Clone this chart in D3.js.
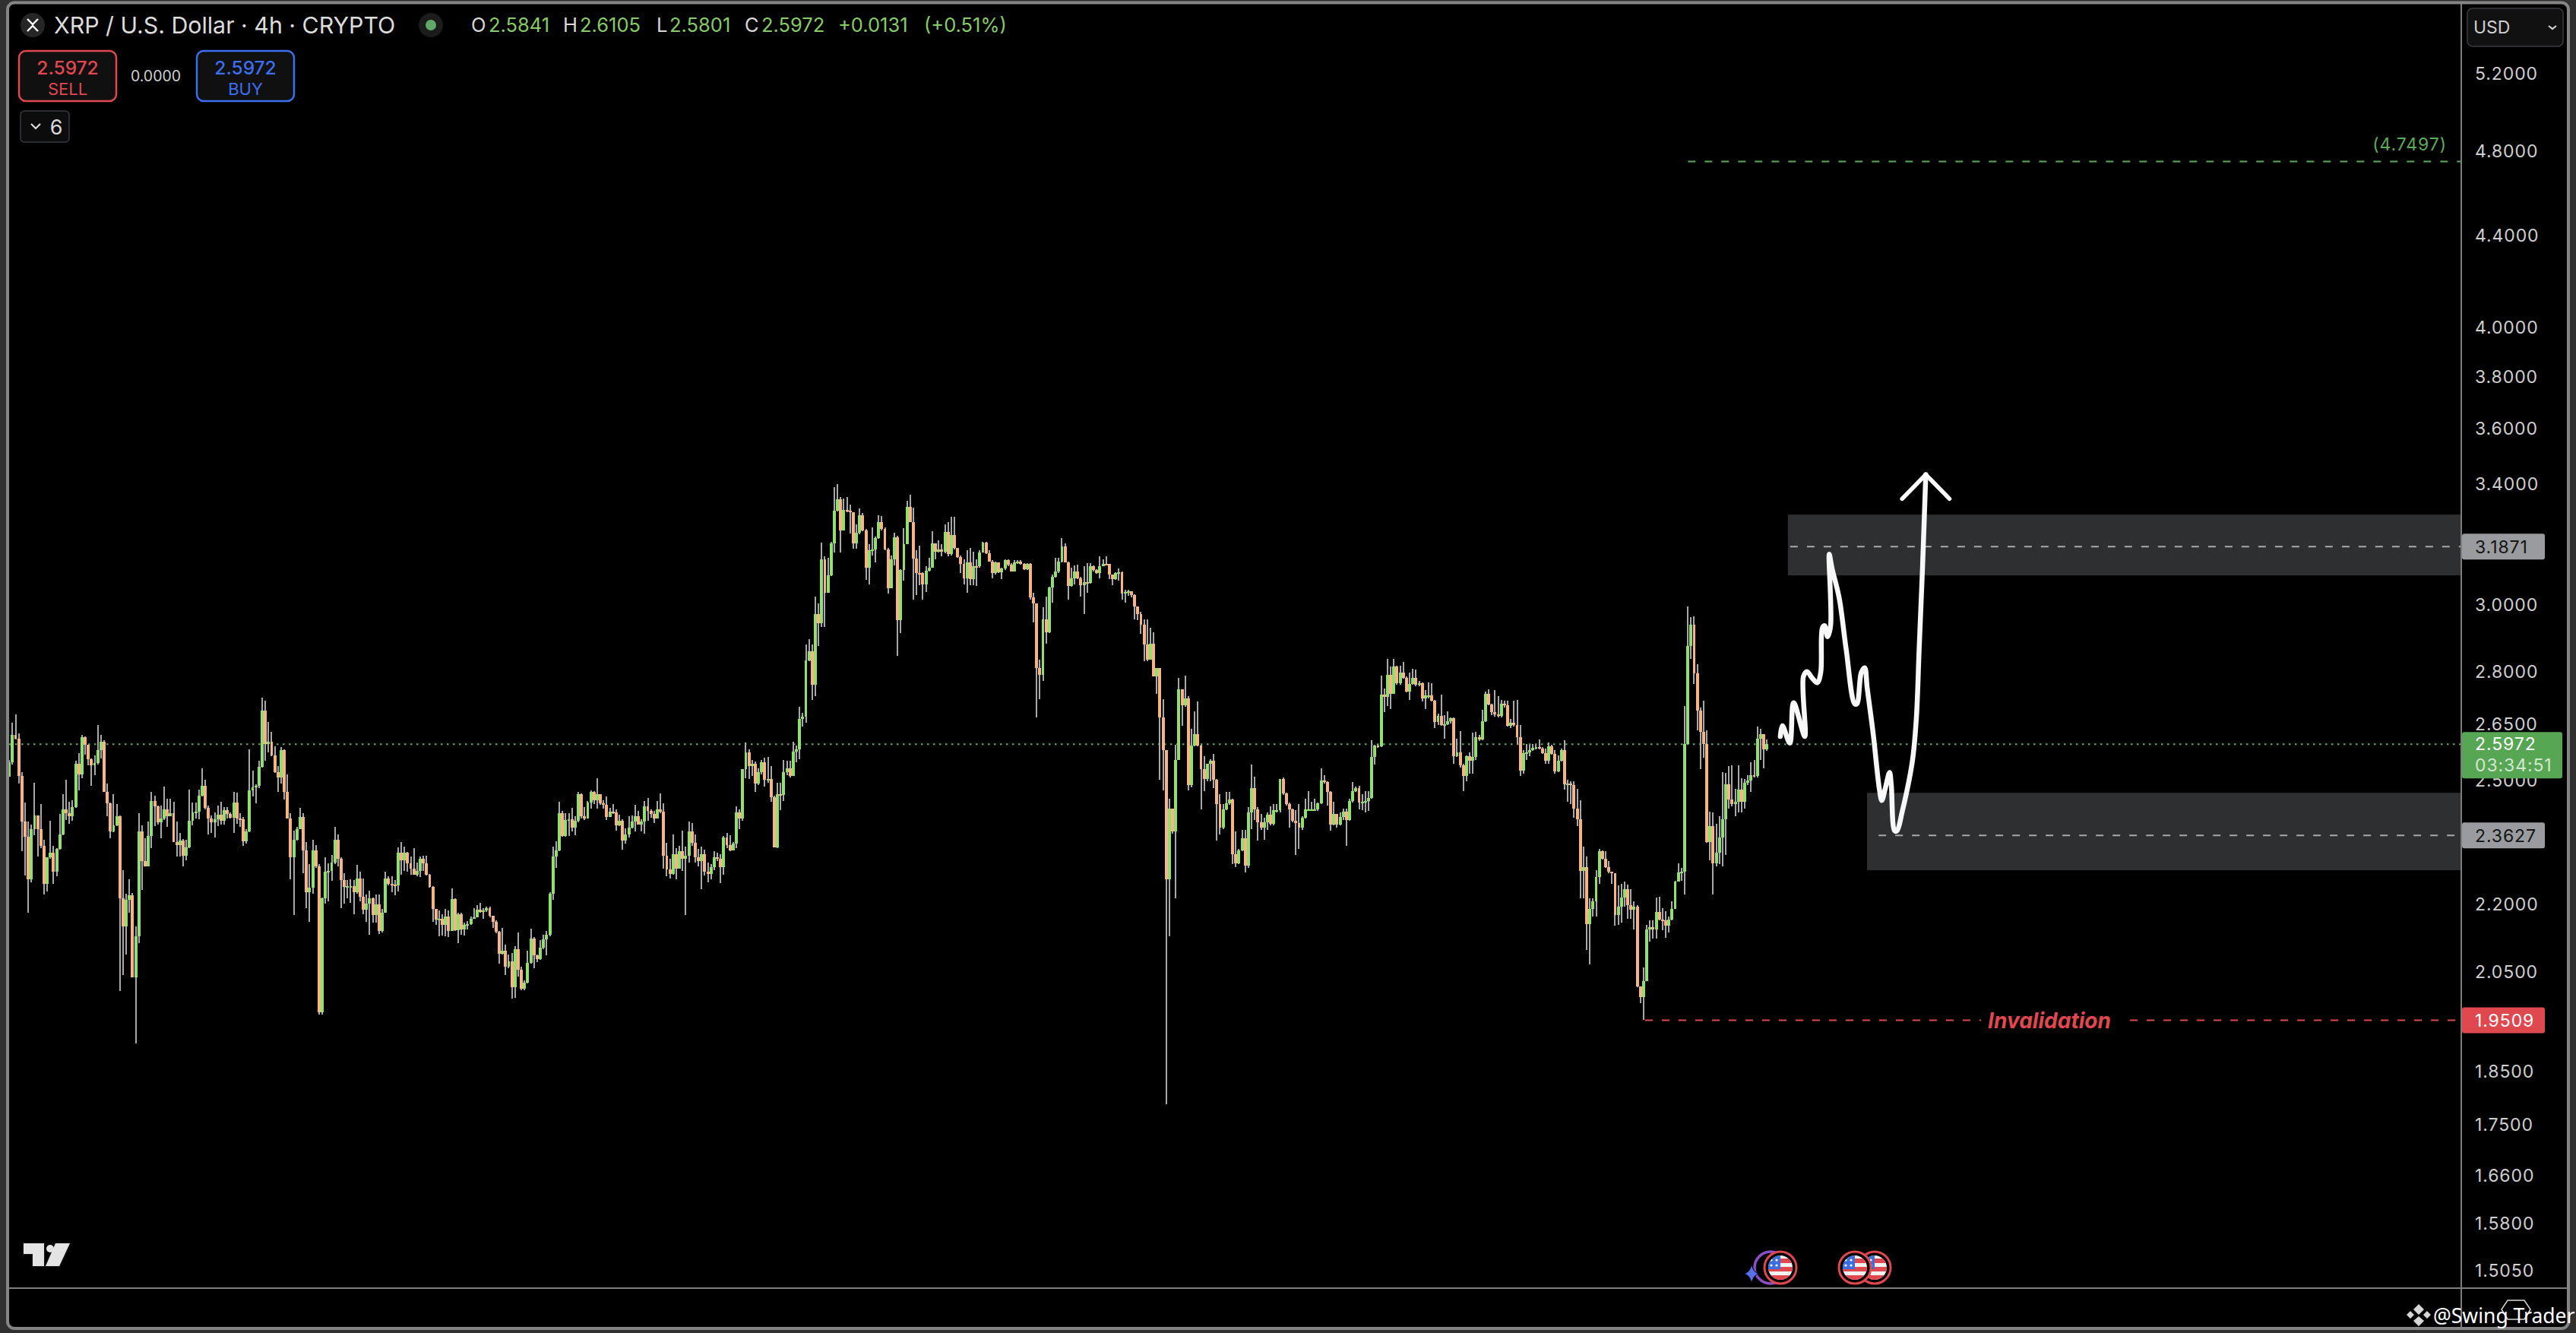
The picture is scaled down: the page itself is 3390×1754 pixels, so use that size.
<!DOCTYPE html>
<html>
<head>
<meta charset="utf-8">
<title>XRP / U.S. Dollar 4h</title>
<script src="https://cdn.jsdelivr.net/npm/d3@7"></script>
<style>
  html, body { margin: 0; padding: 0; background: #303030; }
  svg { display: block; font-family: Inter, "Noto Sans", sans-serif; }
</style>
</head>
<body>
<svg id="chart" width="3390" height="1754"></svg>
<script>
// 4h candles, oldest first. Each open is the close before it.
const firstOpen = 2.511;
const closesDecember = [
  2.548,2.622,2.611,2.512,2.397,2.36,2.258,2.379,2.413,2.378,
  2.338,2.247,2.309,2.321,2.275,2.33,2.366,2.428,2.418,2.41,
  2.434,2.544,2.516,2.615,2.596,2.556,2.541,2.546,2.582,2.604,
  2.472,2.442,2.373,2.388,2.41,2.214,2.15,2.21,2.22,2.04,
  2.129,2.372,2.301,2.289,2.362,2.449,2.435,2.395,2.405,2.427,
  2.41,2.418,2.347,2.339,2.351,2.314,2.333,2.399,2.42,2.422,
  2.463,2.487,2.431,2.405,2.395,2.402,2.414,2.398,2.426,2.416,
  2.406,2.445,2.404,2.403,2.348,2.373,2.475,2.483,2.488,2.536,
  2.69,2.597,2.603,2.567,2.523,2.509,2.582,2.472,2.404,2.309,
  2.352,2.378,2.409,2.326,2.228,2.238,2.326,2.288,1.967,2.213,
  2.276,2.278,2.298,2.352,2.306,2.256,2.24,2.241,2.242,2.227,
  2.259,2.218,2.188,2.201,2.214,2.176,2.2,2.14,2.181,2.259,
  2.247,2.246,2.244,2.32,2.302,2.32,2.296,2.282,2.269,2.278,
  2.306,2.296,2.269,2.24,2.189,2.165,2.168,2.153,2.173,2.14,
  2.212,2.141,2.177,2.144,2.153,2.156,2.168,2.171,2.188,2.182,
  2.186,2.192,2.174,2.161,2.138,2.09,2.097,2.063,2.073,2.019,
  2.1,2.055,2.016,2.029,2.071,2.124,2.087,2.078,2.103,2.121,
  2.131,2.225,2.312,2.326,2.418,2.362,2.401,2.402,2.382,2.398,
  2.466,2.41,2.405,2.444,2.471
];
const highsDecember = [
  2.555,2.656,2.679,2.627,2.522,2.444,2.397,2.39,2.496,2.413,
  2.441,2.353,2.309,2.399,2.338,2.332,2.416,2.465,2.504,2.447,
  2.451,2.553,2.574,2.622,2.618,2.596,2.558,2.567,2.649,2.622,
  2.607,2.494,2.444,2.465,2.441,2.413,2.279,2.224,2.258,2.226,
  2.15,2.418,2.387,2.356,2.397,2.471,2.463,2.437,2.437,2.485,
  2.454,2.454,2.446,2.397,2.368,2.354,2.352,2.478,2.445,2.444,
  2.478,2.532,2.503,2.437,2.413,2.42,2.437,2.447,2.434,2.434,
  2.42,2.471,2.469,2.418,2.408,2.378,2.584,2.527,2.492,2.553,
  2.726,2.716,2.657,2.63,2.591,2.538,2.59,2.583,2.516,2.418,
  2.374,2.384,2.431,2.418,2.346,2.293,2.353,2.339,2.293,2.216,
  2.309,2.296,2.315,2.384,2.365,2.309,2.272,2.256,2.258,2.256,
  2.292,2.275,2.26,2.222,2.232,2.216,2.222,2.222,2.189,2.276,
  2.264,2.264,2.256,2.333,2.346,2.335,2.322,2.312,2.332,2.298,
  2.312,2.314,2.314,2.27,2.241,2.189,2.186,2.178,2.189,2.186,
  2.236,2.213,2.18,2.18,2.159,2.162,2.172,2.192,2.198,2.204,
  2.192,2.195,2.195,2.174,2.163,2.14,2.147,2.11,2.088,2.091,
  2.106,2.136,2.062,2.034,2.097,2.145,2.126,2.088,2.12,2.132,
  2.14,2.228,2.336,2.349,2.446,2.424,2.418,2.418,2.432,2.41,
  2.471,2.468,2.434,2.449,2.475
];
const lowsDecember = [
  2.511,2.542,2.61,2.493,2.325,2.267,2.18,2.251,2.364,2.312,
  2.332,2.223,2.229,2.306,2.247,2.264,2.329,2.363,2.401,2.392,
  2.398,2.432,2.475,2.507,2.569,2.541,2.488,2.514,2.542,2.558,
  2.471,2.41,2.356,2.371,2.386,2.011,2.044,2.088,2.18,2.04,
  1.904,2.114,2.233,2.288,2.288,2.332,2.386,2.39,2.355,2.401,
  2.384,2.41,2.346,2.311,2.311,2.289,2.303,2.332,2.388,2.404,
  2.403,2.461,2.427,2.366,2.368,2.358,2.386,2.39,2.389,2.404,
  2.404,2.369,2.392,2.384,2.337,2.343,2.371,2.461,2.442,2.481,
  2.534,2.553,2.576,2.565,2.52,2.472,2.493,2.452,2.404,2.258,
  2.176,2.351,2.378,2.272,2.192,2.161,2.225,2.285,1.962,1.962,
  2.202,2.207,2.254,2.294,2.288,2.192,2.202,2.213,2.204,2.178,
  2.225,2.207,2.177,2.161,2.132,2.159,2.159,2.134,2.137,2.181,
  2.244,2.227,2.22,2.229,2.269,2.278,2.275,2.269,2.268,2.264,
  2.263,2.278,2.266,2.238,2.161,2.153,2.128,2.13,2.129,2.126,
  2.14,2.14,2.114,2.132,2.13,2.144,2.153,2.168,2.17,2.18,
  2.168,2.183,2.171,2.147,2.135,2.068,2.088,2.045,2.059,1.995,
  1.997,2.042,2.012,2.012,2.027,2.068,2.059,2.072,2.077,2.1,
  2.087,2.129,2.21,2.285,2.325,2.36,2.36,2.361,2.372,2.363,
  2.396,2.404,2.401,2.404,2.429
];
const closesJanuary = [
  2.45,2.466,2.442,2.439,2.409,2.421,2.42,2.388,2.399,2.35,
  2.366,2.382,2.397,2.411,2.39,2.397,2.436,2.423,2.416,2.404,
  2.428,2.421,2.314,2.281,2.27,2.318,2.283,2.324,2.306,2.314,
  2.372,2.344,2.31,2.301,2.318,2.276,2.27,2.286,2.309,2.307,
  2.286,2.358,2.34,2.327,2.343,2.42,2.405,2.53,2.575,2.538,
  2.545,2.493,2.522,2.549,2.503,2.506,2.459,2.334,2.466,2.464,
  2.522,2.533,2.513,2.577,2.584,2.666,2.672,2.832,2.86,2.762,
  2.972,2.945,3.145,3.039,3.093,3.198,3.309,3.348,3.24,3.311,
  3.307,3.303,3.198,3.234,3.291,3.242,3.119,3.174,3.178,3.215,
  3.27,3.246,3.178,3.052,3.145,3.219,2.954,3.11,3.196,3.322,
  3.27,3.149,3.102,3.101,3.065,3.108,3.119,3.198,3.171,3.178,
  3.171,3.235,3.162,3.225,3.182,3.153,3.13,3.085,3.135,3.081,
  3.124,3.122,3.167,3.2,3.165,3.139,3.101,3.135,3.104,3.116,
  3.144,3.128,3.107,3.135,3.138,3.131,3.114,3.131,3.024,3.006,
  2.81,2.791,2.956,2.916,3.055,3.089,3.106,3.138,3.187,3.136,
  3.059,3.083,3.106,3.083,3.063,3.073,3.069,3.124,3.11,3.101,
  3.123,3.131,3.13,3.095,3.081,3.101,3.103,3.035,3.041,3.042,
  3.03,2.996,2.972,2.94
];
const highsJanuary = [
  2.474,2.508,2.466,2.451,2.461,2.431,2.441,2.428,2.414,2.402,
  2.38,2.411,2.412,2.439,2.423,2.402,2.449,2.457,2.428,2.423,
  2.448,2.467,2.443,2.344,2.306,2.365,2.332,2.338,2.375,2.335,
  2.397,2.394,2.365,2.33,2.335,2.328,2.297,2.294,2.324,2.321,
  2.317,2.361,2.369,2.363,2.346,2.436,2.428,2.531,2.601,2.583,
  2.555,2.55,2.532,2.555,2.56,2.562,2.539,2.463,2.495,2.495,
  2.555,2.552,2.552,2.603,2.594,2.7,2.683,2.879,2.895,2.879,
  3.027,3.005,3.2,3.154,3.15,3.204,3.39,3.401,3.354,3.35,
  3.354,3.328,3.303,3.262,3.317,3.3,3.246,3.196,3.25,3.221,
  3.291,3.29,3.25,3.183,3.158,3.233,3.222,3.114,3.248,3.341,
  3.364,3.318,3.175,3.189,3.104,3.122,3.15,3.238,3.198,3.208,
  3.196,3.262,3.268,3.288,3.286,3.183,3.158,3.146,3.175,3.183,
  3.171,3.146,3.175,3.203,3.204,3.175,3.144,3.138,3.135,3.118,
  3.146,3.146,3.134,3.144,3.144,3.144,3.134,3.134,3.134,3.038,
  3.006,2.834,2.994,3.027,3.057,3.097,3.15,3.15,3.215,3.197,
  3.139,3.118,3.126,3.129,3.089,3.122,3.134,3.134,3.126,3.114,
  3.154,3.146,3.154,3.131,3.097,3.104,3.116,3.106,3.047,3.047,
  3.041,3.033,2.996,2.979
];
const lowsJanuary = [
  2.441,2.429,2.438,2.429,2.401,2.409,2.415,2.375,2.386,2.329,
  2.343,2.358,2.38,2.372,2.39,2.372,2.367,2.399,2.407,2.394,
  2.407,2.418,2.283,2.265,2.26,2.269,2.258,2.283,2.278,2.176,
  2.298,2.337,2.298,2.288,2.234,2.267,2.251,2.258,2.28,2.301,
  2.248,2.269,2.332,2.324,2.326,2.332,2.378,2.398,2.507,2.506,
  2.513,2.472,2.49,2.516,2.485,2.496,2.446,2.333,2.332,2.425,
  2.449,2.515,2.51,2.515,2.548,2.556,2.644,2.655,2.83,2.718,
  2.73,2.875,2.932,2.932,3.037,3.091,3.167,3.305,3.168,3.24,
  3.303,3.231,3.181,3.181,3.229,3.238,3.079,3.065,3.158,3.136,
  3.213,3.242,3.175,3.035,3.052,3.126,2.845,2.913,3.077,3.194,
  3.268,3.017,3.031,3.061,3.016,3.041,3.106,3.118,3.145,3.167,
  3.154,3.164,3.154,3.158,3.178,3.15,3.102,3.065,3.039,3.063,
  3.061,3.059,3.118,3.167,3.162,3.138,3.083,3.097,3.101,3.082,
  3.11,3.122,3.106,3.107,3.13,3.129,3.112,3.112,3.016,2.947,
  2.671,2.721,2.773,2.881,2.915,3.008,3.087,3.101,3.135,3.135,
  3.016,3.057,3.065,3.081,3.027,2.972,3.039,3.067,3.106,3.099,
  3.085,3.122,3.128,3.081,3.063,3.079,3.077,3.017,3.007,3.029,
  3.025,2.955,2.954,2.912
];
const closesFebruary = [
  2.879,2.834,2.882,2.787,2.811,2.67,2.581,2.258,2.43,2.372,
  2.555,2.749,2.703,2.724,2.489,2.594,2.625,2.594,2.53,2.506,
  2.545,2.552,2.504,2.44,2.382,2.427,2.442,2.452,2.318,2.295,
  2.327,2.355,2.29,2.42,2.481,2.428,2.396,2.382,2.396,2.414,
  2.391,2.425,2.425,2.506,2.467,2.44,2.428,2.399,2.393,2.382,
  2.406,2.428,2.428,2.428,2.428,2.443,2.501,2.497,2.472,2.389,
  2.415,2.389,2.409,2.422,2.401,2.448,2.474,2.482,2.445,2.447,
  2.448,2.457,2.562,2.594,2.591,2.733,2.727,2.79,2.737,2.815,
  2.766,2.798,2.781,2.743,2.765,2.782,2.761,2.766,2.724,2.731,
  2.732,2.716,2.658,2.675,2.649,2.652,2.66,2.667,2.565,2.576,
  2.54,2.512,2.565,2.553,2.563,2.615,2.609,2.66,2.737,2.706,
  2.685,2.679,2.674,2.708,2.703,2.646,2.656,2.649,2.615,2.527,
  2.573,2.576,2.581,2.588,2.589,2.586,2.573,2.553,2.591,2.571,
  2.525,2.553,2.581,2.491,2.494,2.489,2.43,2.403,2.278,2.286,
  2.155
];
const highsFebruary = [
  2.956,2.956,2.93,2.917,2.811,2.811,2.72,2.581,2.455,2.43,
  2.596,2.782,2.749,2.789,2.73,2.638,2.688,2.714,2.596,2.565,
  2.545,2.557,2.572,2.506,2.466,2.44,2.471,2.471,2.455,2.372,
  2.33,2.377,2.377,2.433,2.542,2.511,2.433,2.415,2.406,2.42,
  2.435,2.44,2.44,2.506,2.509,2.469,2.445,2.43,2.425,2.44,
  2.411,2.455,2.473,2.447,2.455,2.445,2.532,2.514,2.499,2.474,
  2.447,2.415,2.42,2.43,2.43,2.455,2.497,2.486,2.487,2.465,
  2.474,2.474,2.607,2.596,2.598,2.789,2.751,2.838,2.815,2.836,
  2.818,2.818,2.827,2.787,2.796,2.807,2.805,2.773,2.768,2.746,
  2.768,2.766,2.719,2.681,2.733,2.676,2.686,2.67,2.67,2.612,
  2.633,2.545,2.567,2.576,2.628,2.63,2.622,2.692,2.743,2.748,
  2.708,2.746,2.73,2.719,2.716,2.716,2.665,2.716,2.719,2.649,
  2.581,2.598,2.596,2.598,2.596,2.61,2.589,2.586,2.602,2.596,
  2.581,2.567,2.586,2.607,2.504,2.499,2.499,2.479,2.45,2.336,
  2.311
];
const lowsFebruary = [
  2.83,2.83,2.834,2.785,2.735,2.504,2.476,1.788,2.129,2.367,
  2.213,2.555,2.647,2.7,2.476,2.484,2.591,2.591,2.427,2.474,
  2.499,2.499,2.482,2.35,2.365,2.379,2.425,2.438,2.293,2.286,
  2.293,2.325,2.273,2.284,2.379,2.401,2.35,2.377,2.353,2.377,
  2.388,2.388,2.42,2.42,2.464,2.437,2.382,2.396,2.316,2.33,
  2.377,2.404,2.423,2.423,2.423,2.423,2.44,2.494,2.437,2.375,
  2.387,2.382,2.387,2.401,2.338,2.399,2.445,2.472,2.428,2.425,
  2.42,2.423,2.455,2.543,2.588,2.589,2.685,2.701,2.694,2.735,
  2.763,2.763,2.779,2.74,2.719,2.761,2.757,2.757,2.714,2.694,
  2.724,2.714,2.64,2.649,2.647,2.612,2.649,2.654,2.545,2.562,
  2.535,2.474,2.499,2.519,2.519,2.555,2.605,2.607,2.658,2.703,
  2.676,2.673,2.671,2.671,2.698,2.644,2.641,2.644,2.596,2.512,
  2.519,2.555,2.565,2.579,2.584,2.584,2.572,2.545,2.545,2.568,
  2.519,2.522,2.55,2.477,2.447,2.44,2.406,2.385,2.213,2.213,
  2.098
];
const closesMarch = [
  2.19,2.207,2.263,2.324,2.307,2.286,2.275,2.272,2.176,2.195,
  2.215,2.235,2.198,2.187,2.195,2.02,1.998,2.031,2.144,2.148,
  2.144,2.183,2.165,2.163,2.152,2.166,2.19,2.252,2.273,2.275,
  2.597,2.875,2.939,2.794,2.689,2.631,2.597,2.347,2.386,2.295,
  2.32,2.358,2.403,2.492,2.452,2.44,2.447,2.478,2.447,2.495,
  2.502,2.515,2.512,2.611,2.625,2.5841,2.5972
];
const highsMarch = [
  2.214,2.214,2.279,2.33,2.327,2.325,2.3,2.275,2.272,2.243,
  2.247,2.252,2.245,2.234,2.207,2.198,2.02,2.06,2.154,2.163,
  2.163,2.215,2.218,2.192,2.185,2.172,2.207,2.254,2.296,2.284,
  2.701,2.996,2.962,2.965,2.822,2.698,2.716,2.635,2.421,2.419,
  2.391,2.41,2.522,2.52,2.538,2.54,2.48,2.54,2.508,2.505,
  2.515,2.548,2.555,2.644,2.639,2.625,2.6105
];
const lowsMarch = [
  2.067,2.172,2.172,2.247,2.305,2.284,2.272,2.247,2.152,2.154,
  2.159,2.194,2.167,2.167,2.144,2.019,1.985,1.951,2.031,2.117,
  2.123,2.123,2.163,2.141,2.125,2.136,2.163,2.19,2.252,2.255,
  2.222,2.597,2.838,2.765,2.634,2.53,2.56,2.344,2.302,2.222,
  2.288,2.293,2.288,2.316,2.43,2.435,2.411,2.42,2.42,2.43,
  2.49,2.472,2.51,2.51,2.555,2.532,2.5801
];

const priceTicks = [5.2,4.8,4.4,4,3.8,3.6,3.4,3,2.8,2.65,2.5,2.2,2.05,1.85,1.75,1.66,1.58,1.505];
const timeTicks = [
  "2024-12-04","2024-12-09","2024-12-14","2024-12-19","2024-12-24","2025-01-01","2025-01-06",
  "2025-01-11","2025-01-16","2025-01-21","2025-01-26","2025-02-01","2025-02-06","2025-02-11",
  "2025-02-16","2025-02-21","2025-03-01","2025-03-06","2025-03-11","2025-03-16","2025-03-21",
  "2025-03-26","2025-04-01","2025-04-06","2025-04-11"
];

const lastPrice = 2.5972;
const targetPrice = 4.7497;
const invalidationPrice = 1.9509;
const upperLevel = 3.1871;
const lowerLevel = 2.3627;
const upperZone = [3.2946, 3.0934];
const lowerZone = [2.4694, 2.279];

// hand drawn projection: days after 1 Jan 2025, and price
const sketchDays = [65.46,65.57,65.96,66.16,66.75,66.68,66.87,67.14,67.41,67.59,67.68,67.8,67.95,68.11,68.04,68.18,68.57,68.93,69.38,69.5,69.73,69.91,70.04,70.36,70.68,70.81,70.99,71.22,71.31,71.49,71.61,71.88,72.42,72.63,72.78,72.95,73.13];
const sketchPrices = [2.618,2.647,2.6,2.711,2.618,2.786,2.8,2.781,2.768,2.797,2.93,2.936,2.903,2.936,3.162,3.118,3.02,2.866,2.708,2.708,2.797,2.811,2.753,2.624,2.48,2.45,2.48,2.522,2.49,2.374,2.374,2.42,2.551,2.666,2.866,3.106,3.434];
const arrowDays = [71.88,73.13,74.38];
const arrowPrices = [3.349,3.434,3.349];

const closes = closesDecember.concat(closesJanuary, closesFebruary, closesMarch);
const highs = highsDecember.concat(highsJanuary, highsFebruary, highsMarch);
const lows = lowsDecember.concat(lowsJanuary, lowsFebruary, lowsMarch);

const GREEN = "#91df6f";
const ORANGE = "#f6b487";
const WICK = "#a8a8a8";
const RED = "#e0484f";
const LINE_GREEN = "#5cab58";
const AXIS_GREY = "#7d7d7d";
const TEXT = "#cfcfcf";

const plot = { left: 12, right: 3239, top: 6, bottom: 1695 };
const jan1 = Date.UTC(2025, 0, 1);
const dayToDate = d => new Date(jan1 + d * 864e5);
const firstCandle = Date.UTC(2024, 11, 4, 2);
const candleStep = 4 * 36e5;

const x = d3.scaleUtc()
  .domain([new Date(jan1), new Date(Date.UTC(2025, 3, 11))])
  .range([709, 3205]);
const y = d3.scaleLog()
  .domain([5.2, 1.505])
  .range([97.6, 1672]);

const candles = closes.map((c, i) => ({
  time: new Date(firstCandle + i * candleStep),
  open: i === 0 ? firstOpen : closes[i - 1],
  close: c,
  high: highs[i],
  low: lows[i]
}));

const svg = d3.select("#chart");

svg.append("rect")
  .attr("x", 10).attr("y", 3.5)
  .attr("width", 3370).attr("height", 1744.5)
  .attr("rx", 9)
  .attr("fill", "#000")
  .attr("stroke", "#858585")
  .attr("stroke-width", 4);

const defs = svg.append("defs");
defs.append("clipPath").attr("id", "plotClip")
  .append("rect")
  .attr("x", plot.left).attr("y", plot.top)
  .attr("width", plot.right - plot.left).attr("height", plot.bottom - plot.top);
defs.append("clipPath").attr("id", "timeClip")
  .append("rect")
  .attr("x", plot.left).attr("y", plot.bottom)
  .attr("width", 3366).attr("height", 50);

const chart = svg.append("g").attr("clip-path", "url(#plotClip)");

// zones
const zoneData = [
  { from: 65.86, prices: upperZone },
  { from: 70.03, prices: lowerZone }
];
chart.append("g").selectAll("rect")
  .data(zoneData)
  .join("rect")
  .attr("x", d => x(dayToDate(d.from)))
  .attr("width", d => plot.right - x(dayToDate(d.from)))
  .attr("y", d => y(d.prices[0]))
  .attr("height", d => y(d.prices[1]) - y(d.prices[0]))
  .attr("fill", "#2e2f31");

// level lines
function level(fromX, toX, price, color, dash) {
  chart.append("line")
    .attr("x1", fromX).attr("x2", toX)
    .attr("y1", y(price)).attr("y2", y(price))
    .attr("stroke", color)
    .attr("stroke-width", 2)
    .attr("stroke-dasharray", dash);
}
level(x(dayToDate(65.98)), plot.right, upperLevel, "#a9a9a9", "10 12");
level(x(dayToDate(70.64)), plot.right, lowerLevel, "#a9a9a9", "10 12");
level(x(dayToDate(60.59)), plot.right, targetPrice, LINE_GREEN, "10 12");
level(x(dayToDate(58.33)), x(dayToDate(76.05)), invalidationPrice, RED, "10 12");
level(x(dayToDate(83.9)), plot.right, invalidationPrice, RED, "10 12");
level(plot.left, plot.right, lastPrice, LINE_GREEN, "2.5 5.5");

// candles, all wicks under all bodies
const step = x(new Date(firstCandle + candleStep)) - x(new Date(firstCandle));

chart.append("g")
  .attr("shape-rendering", "crispEdges")
  .selectAll("line")
  .data(candles)
  .join("line")
  .attr("x1", d => x(d.time)).attr("x2", d => x(d.time))
  .attr("y1", d => y(d.high)).attr("y2", d => y(d.low))
  .attr("stroke", WICK)
  .attr("stroke-width", 2);

chart.append("g")
  .attr("shape-rendering", "crispEdges")
  .selectAll("rect")
  .data(candles)
  .join("rect")
  .attr("x", d => x(d.time) - step * 0.47)
  .attr("width", step * 0.94)
  .attr("y", d => y(Math.max(d.open, d.close)))
  .attr("height", d => Math.max(2, Math.abs(y(d.open) - y(d.close))))
  .attr("fill", d => d.close >= d.open ? GREEN : ORANGE);

// projection sketch
const sketchLine = d3.line()
  .x(d => x(dayToDate(d[0])))
  .y(d => y(d[1]));

chart.append("path")
  .datum(d3.zip(sketchDays, sketchPrices))
  .attr("d", sketchLine.curve(d3.curveCatmullRom.alpha(0.5)))
  .attr("fill", "none")
  .attr("stroke", "#fff")
  .attr("stroke-width", 6.5)
  .attr("stroke-linecap", "round")
  .attr("stroke-linejoin", "round")
  .attr("stroke-opacity", 0.97);

chart.append("path")
  .datum(d3.zip(arrowDays, arrowPrices))
  .attr("d", sketchLine.curve(d3.curveLinear))
  .attr("fill", "none")
  .attr("stroke", "#fff")
  .attr("stroke-width", 5.5)
  .attr("stroke-linecap", "round")
  .attr("stroke-linejoin", "round");

chart.append("text")
  .attr("x", 2697).attr("y", y(invalidationPrice))
  .attr("dy", "0.36em")
  .attr("text-anchor", "middle")
  .attr("font-size", 28)
  .attr("font-weight", 700)
  .attr("font-style", "italic")
  .attr("fill", RED)
  .text("Invalidation");

// axes
const yAxis = d3.axisRight(y)
  .tickValues(priceTicks)
  .tickFormat(d3.format(".4f"))
  .tickSize(0)
  .tickPadding(0);
const yAxisG = svg.append("g")
  .attr("transform", `translate(3257,0)`)
  .call(yAxis);
yAxisG.select(".domain").remove();
yAxisG.selectAll("text")
  .attr("font-size", 23)
  .attr("font-family", "Inter, sans-serif")
  .attr("letter-spacing", 0.9)
  .attr("fill", TEXT);

const timeFormat = d => {
  if (d.getUTCMonth() === 0 && d.getUTCDate() === 1) return String(d.getUTCFullYear());
  if (d.getUTCDate() === 1) return d3.utcFormat("%b")(d);
  return String(d.getUTCDate());
};
const xAxis = d3.axisBottom(x)
  .tickValues(timeTicks.map(d => new Date(d + "T00:00:00Z")))
  .tickFormat(timeFormat)
  .tickSize(0)
  .tickPadding(0);
const xAxisG = svg.append("g")
  .attr("transform", `translate(0,${plot.bottom})`)
  .attr("clip-path", "url(#timeClip)")
  .call(xAxis);
xAxisG.select(".domain").remove();
xAxisG.selectAll("text")
  .attr("y", 29)
  .attr("dy", "0.36em")
  .attr("font-size", 23)
  .attr("font-family", "Inter, sans-serif")
  .attr("font-weight", d => d.getUTCFullYear() === 2025 && d.getUTCMonth() === 0 && d.getUTCDate() === 1 ? 700 : 400)
  .attr("fill", TEXT);

svg.append("line")
  .attr("x1", plot.right).attr("x2", plot.right)
  .attr("y1", 5).attr("y2", 1746)
  .attr("stroke", AXIS_GREY).attr("stroke-width", 2);
svg.append("line")
  .attr("x1", 12).attr("x2", 3378)
  .attr("y1", plot.bottom).attr("y2", plot.bottom)
  .attr("stroke", AXIS_GREY).attr("stroke-width", 2);

// price badges on the axis
function badge(price, boxColor, textColor) {
  const cy = y(price);
  svg.append("rect")
    .attr("x", 3240).attr("y", cy - 17)
    .attr("width", 109).attr("height", 34)
    .attr("rx", 3)
    .attr("fill", boxColor);
  svg.append("text")
    .attr("x", 3257).attr("y", cy)
    .attr("dy", "0.36em")
    .attr("font-size", 23)
    .attr("letter-spacing", 0.9)
    .attr("fill", textColor)
    .text(d3.format(".4f")(price));
}
badge(upperLevel, "#9a9b9e", "#141414");
badge(lowerLevel, "#9a9b9e", "#141414");
badge(invalidationPrice, RED, "#fff");

svg.append("rect")
  .attr("x", 3240).attr("y", y(lastPrice) - 16)
  .attr("width", 132).attr("height", 61)
  .attr("rx", 3)
  .attr("fill", "#57a654");
svg.append("text")
  .attr("x", 3257).attr("y", y(lastPrice))
  .attr("dy", "0.36em")
  .attr("font-size", 23)
  .attr("letter-spacing", 0.9)
  .attr("fill", "#fff")
  .text(d3.format(".4f")(lastPrice));
svg.append("text")
  .attr("x", 3257).attr("y", y(lastPrice) + 28)
  .attr("dy", "0.36em")
  .attr("font-size", 23)
  .attr("letter-spacing", 0.9)
  .attr("fill", "#d3e6cf")
  .text("03:34:51");

svg.append("text")
  .attr("x", 3220).attr("y", y(targetPrice) - 23)
  .attr("dy", "0.36em")
  .attr("text-anchor", "end")
  .attr("font-size", 23)
  .attr("letter-spacing", 0.9)
  .attr("fill", LINE_GREEN)
  .text("(" + targetPrice + ")");

// currency selector
svg.append("rect")
  .attr("x", 3247).attr("y", 11)
  .attr("width", 126).attr("height", 50)
  .attr("rx", 7)
  .attr("fill", "#111")
  .attr("stroke", "#3a3d42")
  .attr("stroke-width", 1.5);
svg.append("text")
  .attr("x", 3255).attr("y", 36)
  .attr("dy", "0.36em")
  .attr("font-size", 23)
  .attr("fill", TEXT)
  .text("USD");
svg.append("path")
  .attr("d", "M3354 34 L3359 38 L3364 34")
  .attr("fill", "none")
  .attr("stroke", TEXT)
  .attr("stroke-width", 2.2);

// header
const header = svg.append("g");
header.append("circle").attr("cx", 43).attr("cy", 33).attr("r", 16).attr("fill", "#262626");
header.append("path")
  .attr("d", "M36 25 L43 32 L50 25 M36 41 L43 34 L50 41")
  .attr("fill", "none").attr("stroke", "#fff").attr("stroke-width", 2.4);
header.append("text")
  .attr("x", 71).attr("y", 33).attr("dy", "0.36em")
  .attr("font-size", 30.3)
  .attr("fill", "#dcdcdc")
  .text("XRP / U.S. Dollar · 4h · CRYPTO");
header.append("circle").attr("cx", 567).attr("cy", 33).attr("r", 16).attr("fill", "#1c1c1c");
header.append("circle").attr("cx", 567).attr("cy", 33).attr("r", 7).attr("fill", "#5fa868");

const ohlcLabels = [
  { x: 620, text: "O", color: "#d8d8d8" }, { x: 643, text: "2.5841", color: "#85cc66" },
  { x: 741, text: "H", color: "#d8d8d8" }, { x: 763, text: "2.6105", color: "#85cc66" },
  { x: 864, text: "L", color: "#d8d8d8" }, { x: 881, text: "2.5801", color: "#85cc66" },
  { x: 980, text: "C", color: "#d8d8d8" }, { x: 1002, text: "2.5972", color: "#85cc66" },
  { x: 1103, text: "+0.0131", color: "#85cc66" }, { x: 1216, text: "(+0.51%)", color: "#85cc66" }
];
header.append("g").selectAll("text")
  .data(ohlcLabels)
  .join("text")
  .attr("x", d => d.x).attr("y", 33).attr("dy", "0.36em")
  .attr("font-size", 25.5)
  .attr("fill", d => d.color)
  .text(d => d.text);

const tradeButtons = [
  { x: 25, color: RED, label: "SELL" },
  { x: 259, color: "#3b6ff0", label: "BUY" }
];
const button = header.append("g").selectAll("g")
  .data(tradeButtons)
  .join("g")
  .attr("transform", d => `translate(${d.x},67)`);
button.append("rect")
  .attr("width", 128).attr("height", 66).attr("rx", 9)
  .attr("fill", "#101010")
  .attr("stroke", d => d.color)
  .attr("stroke-width", 2.5);
button.append("text")
  .attr("x", 64).attr("y", 22).attr("dy", "0.36em")
  .attr("text-anchor", "middle")
  .attr("font-size", 24.5)
  .attr("font-weight", 500)
  .attr("fill", d => d.color)
  .text("2.5972");
button.append("text")
  .attr("x", 64).attr("y", 50).attr("dy", "0.36em")
  .attr("text-anchor", "middle")
  .attr("font-size", 22)
  .attr("fill", d => d.color)
  .text(d => d.label);
header.append("text")
  .attr("x", 205).attr("y", 100).attr("dy", "0.36em")
  .attr("text-anchor", "middle")
  .attr("font-size", 19.5)
  .attr("fill", "#cfcfcf")
  .text("0.0000");

header.append("rect")
  .attr("x", 27).attr("y", 146).attr("width", 64).attr("height", 41).attr("rx", 5)
  .attr("fill", "#0c0c0c").attr("stroke", "#363a41").attr("stroke-width", 1.5);
header.append("path")
  .attr("d", "M41 163 L47 169 L53 163")
  .attr("fill", "none").attr("stroke", "#ddd").attr("stroke-width", 2.2);
header.append("text")
  .attr("x", 74).attr("y", 167).attr("dy", "0.36em")
  .attr("text-anchor", "middle")
  .attr("font-size", 27)
  .attr("fill", "#d8d8d8")
  .text("6");

// TradingView mark
const logo = svg.append("g").attr("transform", "translate(31,1636)");
logo.append("path")
  .attr("d", "M0 0 H27 V30 H12 V14 H0 Z M42 0 H61 L47 30 H29 Z")
  .attr("fill", "#e4e4e4")
  .attr("stroke", "#111")
  .attr("stroke-width", 3)
  .attr("paint-order", "stroke");
logo.append("circle").attr("cx", 35).attr("cy", 7).attr("r", 5).attr("fill", "#e4e4e4");

// event markers above the time axis
const eventX = [2467, 2343, 2441];
defs.append("clipPath").attr("id", "flagClip")
  .append("circle").attr("r", 16);

svg.append("circle")
  .attr("cx", 2330).attr("cy", 1668).attr("r", 21)
  .attr("fill", "#000")
  .attr("stroke", "#8a50c8")
  .attr("stroke-width", 3.5);
svg.append("path")
  .attr("d", "M2305 1661 Q2306 1675 2316 1676 Q2306 1677 2305 1691 Q2304 1677 2294 1676 Q2304 1675 2305 1661 Z")
  .attr("fill", "#5a70e8")
  .attr("stroke", "#000")
  .attr("stroke-width", 1);

const flag = svg.append("g").selectAll("g")
  .data(eventX)
  .join("g")
  .attr("transform", d => `translate(${d},1668)`);
flag.append("circle").attr("r", 21).attr("fill", "#000").attr("stroke", RED).attr("stroke-width", 3);
const flagBody = flag.append("g").attr("clip-path", "url(#flagClip)");
flagBody.append("rect").attr("x", -17).attr("y", -17).attr("width", 34).attr("height", 34).attr("fill", "#f2f2f2");
flagBody.selectAll("rect.stripe")
  .data([-11, 0, 11])
  .join("rect")
  .attr("class", "stripe")
  .attr("x", -17).attr("y", d => d - 1).attr("width", 34).attr("height", 6)
  .attr("fill", "#e0484f");
flagBody.append("rect").attr("x", -17).attr("y", -17).attr("width", 17).attr("height", 19).attr("fill", "#3b6fe0");
flagBody.selectAll("circle.star")
  .data([[-12, -10], [-5, -10], [-12, -3], [-5, -3]])
  .join("circle")
  .attr("class", "star")
  .attr("cx", d => d[0]).attr("cy", d => d[1]).attr("r", 1.6)
  .attr("fill", "#fff");

// watermark
const mark = svg.append("g");
mark.append("path")
  .attr("d", "M3183 1716 L3190 1723 L3183 1730 L3176 1723 Z M3183 1732 L3190 1738 L3183 1745 L3176 1738 Z M3172 1725 L3177 1730 L3172 1735 L3167 1730 Z M3194 1725 L3199 1730 L3194 1735 L3189 1730 Z")
  .attr("fill", "#d6d6d6");
mark.append("path")
  .attr("d", "M3300 1711 H3322 L3330 1723 L3322 1736 H3300 L3292 1723 Z")
  .attr("fill", "none")
  .attr("stroke", "#d6d6d6")
  .attr("stroke-width", 1.5);
mark.append("text")
  .attr("x", 3202).attr("y", 1731).attr("dy", "0.36em")
  .attr("font-family", "'Noto Sans', sans-serif")
  .attr("font-size", 26.5)
  .attr("fill", "#fff")
  .text("@Swing Trader");
</script>
</body>
</html>
